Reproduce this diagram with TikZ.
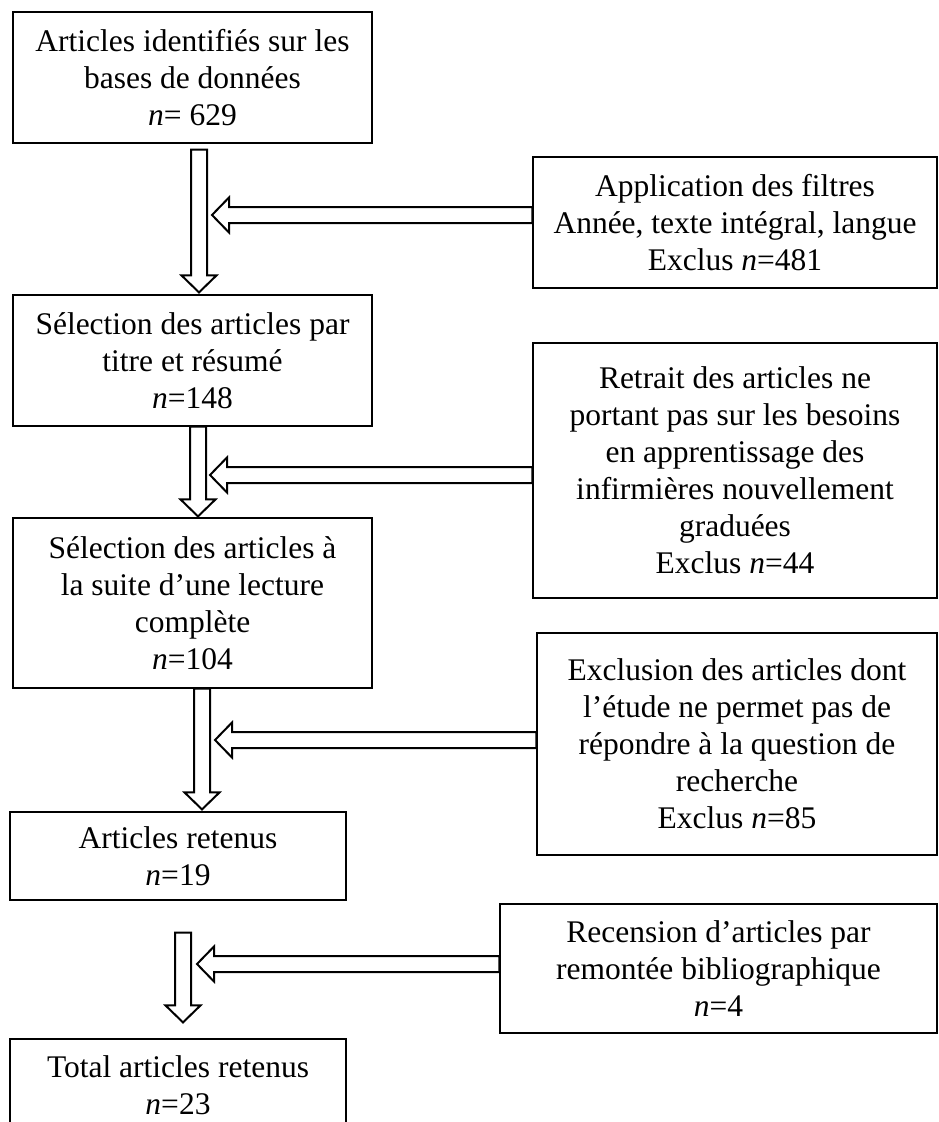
\documentclass[tikz,border=0pt]{standalone}
\usepackage{fontspec}
\setmainfont{Liberation Serif}
\usetikzlibrary{calc}
\tikzset{
  boite/.style={draw, line width=1.2pt, align=center, inner sep=0pt,
    font=\fontsize{31.5}{37}\selectfont},
  fleche/.style={draw, fill=white, line width=2pt, line join=miter},
  vers bas/.style={to path={let \p1=(\tikztostart), \p2=(\tikztotarget) in
    (\x1-8pt,\y1) -- (\x1+8pt,\y1) -- (\x1+8pt,\y2+17pt) -- (\x1+17.5pt,\y2+17pt)
    -- (\x1,\y2) -- (\x1-17.5pt,\y2+17pt) -- (\x1-8pt,\y2+17pt) -- cycle}},
  vers gauche/.style={to path={let \p1=(\tikztostart), \p2=(\tikztotarget) in
    (\x1,\y1+8pt) -- (\x2+17pt,\y1+8pt) -- (\x2+17pt,\y1+17.5pt) -- (\x2,\y1)
    -- (\x2+17pt,\y1-17.5pt) -- (\x2+17pt,\y1-8pt) -- (\x1,\y1-8pt) -- cycle}}
}
\begin{document}
\begin{tikzpicture}[x=1pt,y=-1pt]
    \clip (0,0) rectangle (938,1122);
    \node[boite, minimum width=359pt, minimum height=131pt] (A) at (192.5,77.5)
      {Articles identifiés sur les\\bases de données\\\textit{n}= 629};
    \node[boite, minimum width=359pt, minimum height=131pt] (B) at (192.5,360.5)
      {Sélection des articles par\\titre et résumé\\\textit{n}=148};
    \node[boite, minimum width=359pt, minimum height=170pt] (C) at (192.5,603)
      {Sélection des articles à\\la suite d’une lecture\\complète\\\textit{n}=104};
    \node[boite, minimum width=336pt, minimum height=88pt] (D) at (178,856)
      {Articles retenus\\\textit{n}=19};
    \node[boite, minimum width=336pt, minimum height=92pt] (F) at (178,1085)
      {Total articles retenus\\\textit{n}=23};
    \node[boite, minimum width=404pt, minimum height=131pt] (E1) at (735,222.5)
      {Application des filtres\\Année, texte intégral, langue\\Exclus \textit{n}=481};
    \node[boite, minimum width=404pt, minimum height=255pt] (E2) at (735,470.5)
      {Retrait des articles ne\\portant pas sur les besoins\\en apprentissage des\\infirmières nouvellement\\graduées\\Exclus \textit{n}=44};
    \node[boite, minimum width=400pt, minimum height=222pt] (E3) at (737,744)
      {Exclusion des articles dont\\l’étude ne permet pas de\\répondre à la question de\\recherche\\Exclus \textit{n}=85};
    \node[boite, minimum width=437pt, minimum height=129pt] (E4) at (718.5,968.5)
      {Recension d’articles par\\remontée bibliographique\\\textit{n}=4};

    \coordinate (a1) at ([xshift=6.5pt,yshift=-6pt]A.south);
    \coordinate (b1) at ([xshift=6.5pt,yshift=2pt]B.north);
    \coordinate (a2) at ([xshift=5.5pt]B.south);
    \coordinate (b2) at ([xshift=5.5pt,yshift=1pt]C.north);
    \coordinate (a3) at ([xshift=9.5pt]C.south);
    \coordinate (b3) at ([xshift=24pt,yshift=2pt]D.north);
    \coordinate (a4) at ([xshift=5pt,yshift=-32pt]D.south);
    \coordinate (b4) at ([xshift=5pt,yshift=16pt]F.north);
    \draw[fleche] (a1) to[vers bas] (b1);
    \draw[fleche] (a2) to[vers bas] (b2);
    \draw[fleche] (a3) to[vers bas] (b3);
    \draw[fleche] (a4) to[vers bas] (b4);

    \coordinate (c1) at ([yshift=7.5pt]E1.west);
    \coordinate (c2) at ([yshift=-4.5pt]E2.west);
    \coordinate (c3) at ([yshift=4pt]E3.west);
    \coordinate (c4) at ([yshift=4.5pt]E4.west);
    \draw[fleche] (c1) to[vers gauche] ([xshift=13pt]a1);
    \draw[fleche] (c2) to[vers gauche] ([xshift=12pt]a2);
    \draw[fleche] (c3) to[vers gauche] ([xshift=13pt]a3);
    \draw[fleche] (c4) to[vers gauche] ([xshift=14pt]a4);
\end{tikzpicture}
\end{document}
